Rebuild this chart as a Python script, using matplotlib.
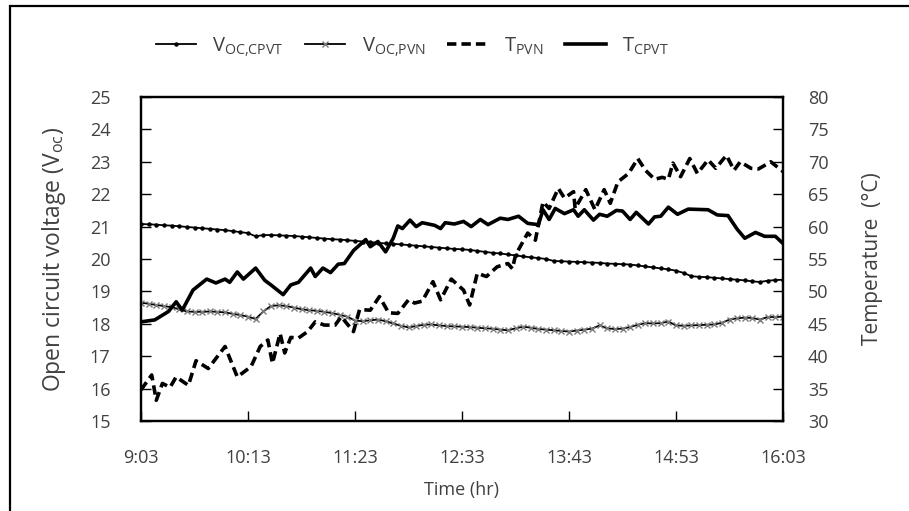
import numpy as np
import matplotlib
matplotlib.use("Agg")
import matplotlib.pyplot as plt
from matplotlib.patches import Rectangle

# minutes after 9:03, 5 min sampling for the voltage series
t_v = np.arange(0, 421, 5)

voc_cpvt = [21.08, 21.07, 21.06, 21.04, 21.03, 21.01, 20.99, 20.97, 20.95, 20.93,
            20.91, 20.89, 20.86, 20.83, 20.80, 20.70, 20.74, 20.74, 20.73, 20.72,
            20.71, 20.69, 20.67, 20.65, 20.63, 20.61, 20.60, 20.58, 20.56, 20.54,
            20.52, 20.50, 20.48, 20.47, 20.45, 20.43, 20.41, 20.39, 20.37, 20.35,
            20.33, 20.31, 20.30, 20.28, 20.25, 20.22, 20.19, 20.17, 20.14, 20.11,
            20.08, 20.05, 20.03, 20.00, 19.94, 19.93, 19.92, 19.91, 19.90, 19.89,
            19.88, 19.86, 19.85, 19.84, 19.83, 19.80, 19.77, 19.74, 19.71, 19.68,
            19.64, 19.57, 19.47, 19.45, 19.44, 19.42, 19.40, 19.38, 19.36, 19.34,
            19.31, 19.29, 19.33, 19.35, 19.36]

voc_pvn = [18.65, 18.62, 18.58, 18.55, 18.51, 18.45, 18.38, 18.37, 18.37, 18.38,
           18.37, 18.35, 18.31, 18.27, 18.22, 18.15, 18.38, 18.55, 18.57, 18.55,
           18.50, 18.45, 18.42, 18.40, 18.37, 18.33, 18.28, 18.22, 18.10, 18.08,
           18.11, 18.13, 18.08, 18.01, 17.94, 17.89, 17.93, 17.97, 17.98, 17.95,
           17.93, 17.92, 17.91, 17.90, 17.88, 17.86, 17.85, 17.82, 17.80, 17.86,
           17.91, 17.88, 17.84, 17.82, 17.80, 17.78, 17.76, 17.79, 17.82, 17.85,
           17.95, 17.86, 17.84, 17.85, 17.90, 17.97, 18.02, 18.01, 18.02, 18.07,
           17.95, 17.94, 17.95, 17.96, 17.97, 17.98, 18.03, 18.13, 18.17, 18.19,
           18.18, 18.13, 18.21, 18.21, 18.22]

t_cpvt = [0, 9, 18, 23, 27, 34, 43, 49, 55, 58, 63, 67, 75, 81, 85, 93, 98, 103,
          111, 114, 119, 124, 129, 133, 139, 147, 150, 155, 160, 165, 168, 171,
          176, 180, 184, 192, 196, 199, 205, 211, 216, 222, 227, 235, 240, 247,
          253, 260, 263, 267, 271, 277, 283, 286, 290, 296, 300, 305, 311, 315,
          320, 324, 332, 336, 340, 345, 351, 358, 371, 377, 384, 390, 395, 402,
          408, 415, 420]
temp_cpvt = [45.3, 45.6, 46.9, 48.4, 47.1, 50.2, 51.9, 51.3, 51.9, 51.4, 53.0,
             51.9, 53.6, 51.7, 51.0, 49.5, 51.0, 51.4, 53.6, 52.3, 53.6, 52.9,
             54.2, 54.3, 56.3, 58.0, 56.9, 57.7, 56.1, 58.2, 60.1, 59.7, 61.0,
             60.0, 60.6, 60.2, 59.7, 60.6, 60.4, 60.8, 60.0, 61.1, 60.3, 61.3,
             61.1, 61.6, 60.5, 60.3, 62.6, 61.1, 62.8, 62.0, 62.6, 61.6, 62.6,
             61.0, 61.9, 61.6, 62.5, 62.4, 61.1, 62.2, 60.4, 61.5, 61.6, 63.0,
             61.9, 62.7, 62.6, 61.8, 61.7, 59.6, 58.2, 59.1, 58.5, 58.5, 57.4]

t_pvn = [0, 7, 10, 14, 19, 23, 31, 36, 44, 55, 63, 72, 78, 83, 86, 91, 94, 98,
         103, 109, 114, 120, 127, 131, 139, 143, 150, 156, 162, 168, 175, 179,
         184, 191, 196, 203, 211, 215, 220, 226, 233, 240, 243, 245, 253, 258,
         263, 267, 273, 277, 283, 284, 291, 297, 303, 307, 312, 319, 325, 330,
         336, 341, 345, 348, 353, 359, 364, 371, 376, 383, 388, 392, 399, 404,
         412, 420]
temp_pvn = [34.8, 37.1, 33.2, 35.8, 35.2, 36.8, 35.5, 39.3, 38.1, 41.5, 36.8,
            38.4, 41.5, 42.5, 38.9, 43.5, 40.5, 42.9, 42.8, 43.8, 45.3, 44.8,
            44.8, 46.1, 43.8, 47.2, 47.1, 49.2, 46.7, 46.6, 48.7, 48.2, 48.5,
            51.5, 48.7, 51.9, 50.2, 47.9, 52.8, 52.3, 53.8, 54.3, 53.5, 55.6,
            59.0, 57.9, 63.8, 62.8, 65.9, 64.4, 65.4, 62.8, 65.7, 62.6, 65.7,
            63.6, 66.9, 68.2, 70.5, 68.7, 67.3, 67.6, 67.3, 69.8, 67.7, 70.5,
            68.2, 70.3, 69.0, 71.0, 68.7, 70.0, 69.0, 68.9, 70.0, 68.5]

time_ticks = [0, 70, 140, 210, 280, 350, 420]
time_labels = ["9:03", "10:13", "11:23", "12:33", "13:43", "14:53", "16:03"]

plt.rcParams["font.family"] = ["Open Sans", "DejaVu Sans"]
plt.rcParams["mathtext.fontset"] = "custom"
plt.rcParams["mathtext.rm"] = "Open Sans"
txt = "#404040"

fig = plt.figure(figsize=(9.09, 5.11), dpi=100)
ax = fig.add_axes([141 / 909, 1 - 421 / 511, 642 / 909, 324 / 511])
ax2 = ax.twinx()

l1, = ax.plot(t_v, voc_cpvt, color="black", lw=1.3, marker="o", ms=2.2,
              label=r"V$_{\mathregular{OC{,}CPVT}}$")
l2, = ax.plot(t_v, voc_pvn, color="black", lw=1.3, marker="x", ms=5,
              mec="#7a7a7a", mew=1.0, label=r"V$_{\mathregular{OC{,}PVN}}$")
l3, = ax2.plot(t_pvn, temp_pvn, color="black", lw=2.6, ls=(0, (2.6, 1.4)),
               solid_joinstyle="round", dash_capstyle="butt",
               label=r"T$_{\mathregular{PVN}}$")
l4, = ax2.plot(t_cpvt, temp_cpvt, color="black", lw=2.6,
               solid_joinstyle="round", label=r"T$_{\mathregular{CPVT}}$")

ax.set_xlim(0, 420)
ax.set_ylim(15, 25)
ax2.set_ylim(30, 80)
ax.set_yticks(range(15, 26))
ax2.set_yticks(range(30, 81, 5))
ax.set_xticks(time_ticks)
ax.set_xticklabels(time_labels)

for a in (ax, ax2):
    for s in a.spines.values():
        s.set_linewidth(1.6)
        s.set_color("black")
ax.tick_params(axis="x", direction="in", length=7, width=1, pad=20,
               labelsize=13, labelcolor=txt)
ax.tick_params(axis="y", direction="in", length=7, width=1, pad=22,
               labelsize=13, labelcolor=txt)
ax2.tick_params(axis="y", direction="in", length=7, width=1, pad=18,
                labelsize=13, labelcolor=txt)

ax.set_xlabel("Time (hr)", fontsize=13, color=txt, labelpad=10)
ax.set_ylabel(r"Open circuit voltage (V$_{\mathregular{oc}}$)", fontsize=16.5,
              color=txt, labelpad=16)
ax2.set_ylabel("Temperature  (°C)", fontsize=15, color=txt, labelpad=24)

fig.legend(handles=[l1, l2, l3, l4], loc="center", ncol=4, frameon=False,
           bbox_to_anchor=(412 / 909, 1 - 47 / 511), fontsize=14.5,
           handlelength=2.0, handletextpad=0.8, columnspacing=1.1,
           labelcolor=txt)

fig.add_artist(Rectangle((10 / 909, -0.1), 1.2, 1.1 - 6 / 511,
                         transform=fig.transFigure, fill=False,
                         lw=1.6, edgecolor="black"))

fig.savefig("out.png", dpi=100)
